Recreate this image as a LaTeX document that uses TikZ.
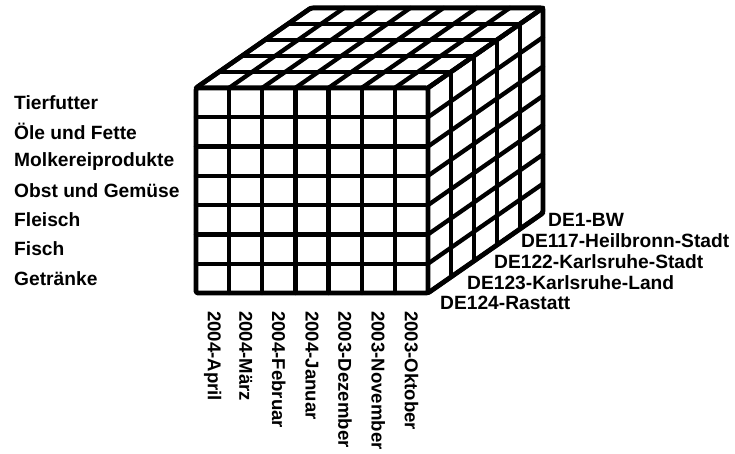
\documentclass[tikz,border=0pt]{standalone}
\usepackage{fontspec}
\setmainfont{Liberation Sans}
\usepackage{tikz}

\begin{document}
\begin{tikzpicture}[
  x=33.14pt,
  y=29.3pt,
  z={(23pt,16pt)},
  gridline/.style={draw=black, line width=4.3pt, line cap=round},
  outline/.style={draw=black, line width=4.8pt, line join=round, rounded corners=2pt},
  catlabel/.style={anchor=west, inner sep=0pt, font=\bfseries\fontsize{19.2}{21}\selectfont},
  monthlabel/.style={anchor=west, rotate=-90, inner sep=0pt, font=\bfseries\fontsize{18.6}{21}\selectfont},
  regionlabel/.style={anchor=west, inner sep=0pt, font=\bfseries\fontsize{19.2}{21}\selectfont}
]
  \useasboundingbox (-196pt,-160pt) rectangle (539pt,293pt);

  % front face
  \foreach \i in {1,...,6} {
    \draw[gridline] (\i,0,0) -- (\i,7,0);
  }
  \foreach \j in {1,...,6} {
    \draw[gridline] (0,\j,0) -- (7,\j,0);
  }
  % top face
  \foreach \i in {0,...,7} {
    \draw[gridline] (\i,7,0) -- (\i,7,5);
  }
  \foreach \k in {1,...,4} {
    \draw[gridline] (0,7,\k) -- (7,7,\k);
  }
  % right face
  \foreach \j in {0,...,7} {
    \draw[gridline] (7,\j,0) -- (7,\j,5);
  }
  \foreach \k in {1,...,4} {
    \draw[gridline] (7,0,\k) -- (7,7,\k);
  }
  % outer edges
  \draw[outline] (0,7,0) -- (0,0,0) -- (7,0,0) -- (7,0,5) -- (7,7,5) -- (0,7,5) -- cycle;
  \draw[outline] (0,7,0) -- (7,7,0) -- (7,0,0);
  \draw[outline] (7,7,0) -- (7,7,5);

  \foreach \name [count=\j from 0] in {Getränke,Fisch,Fleisch,Obst und Gemüse,Molkereiprodukte,Öle und Fette,Tierfutter} {
    \node[catlabel, xshift=-182pt] (cat\j) at (0,\j+0.5,0) {\name};
  }
  \foreach \name [count=\i from 0] in {2004-April,2004-März,2004-Februar,2004-Januar,2003-Dezember,2003-November,2003-Oktober} {
    \node[yshift=-18pt, monthlabel] (month\i) at (\i+0.5,0,0) {\name};
  }
  \foreach \name [count=\k from 0] in {DE124-Rastatt,DE123-Karlsruhe-Land,DE122-Karlsruhe-Stadt,DE117-Heilbronn-Stadt,DE1-BW} {
    \node[regionlabel, xshift={(12+27*\k)*1pt}, yshift={(-10+20.75*\k)*1pt}] (region\k) at (7,0,0) {\name};
  }
\end{tikzpicture}
\end{document}
